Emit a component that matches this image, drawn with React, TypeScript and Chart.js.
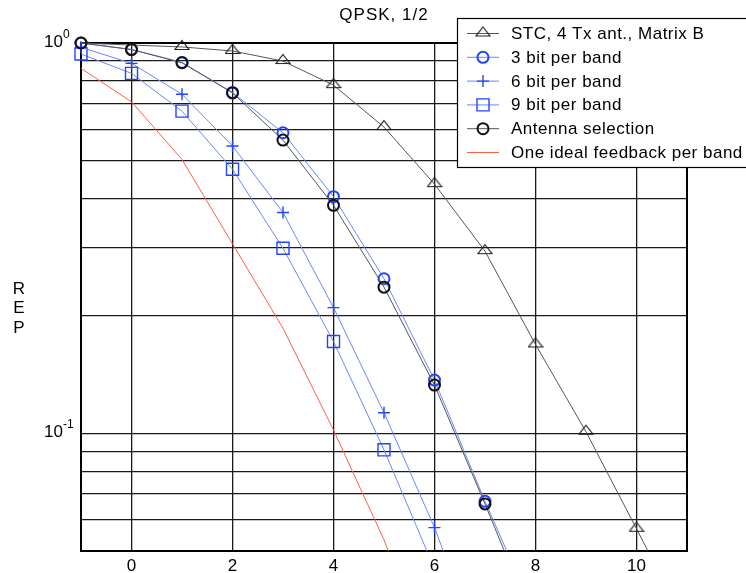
import React, { useEffect, useRef } from 'react';
import { Chart, registerables } from 'chart.js';

Chart.register(...registerables);

// ---- data ----
const stcX = [-1, 0, 1, 2, 3, 4, 5, 6, 7, 8, 9, 10, 11];
const stcY = [1.0, 0.988, 0.977, 0.954, 0.899, 0.78, 0.609, 0.435, 0.293, 0.169, 0.101, 0.057, 0.032];

const bit3X = [-1, 0, 1, 2, 3, 4, 5, 6, 7, 8];
const bit3Y = [1.0, 0.963, 0.892, 0.747, 0.589, 0.404, 0.249, 0.137, 0.067, 0.034];

const bit6X = [-1, 0, 1, 2, 3, 4, 5, 6, 7];
const bit6Y = [0.975, 0.887, 0.739, 0.545, 0.368, 0.21, 0.113, 0.0574, 0.026];

const bit9X = [-1, 0, 1, 2, 3, 4, 5, 6];
const bit9Y = [0.937, 0.836, 0.669, 0.475, 0.298, 0.172, 0.0908, 0.045];

const antX = [-1, 0, 1, 2, 3, 4, 5, 6, 7, 8];
const antY = [1.0, 0.962, 0.89, 0.745, 0.564, 0.384, 0.237, 0.133, 0.066, 0.032];

const idealX = [-1, 0, 1, 2, 3, 4, 5, 6];
const idealY = [0.861, 0.707, 0.503, 0.306, 0.186, 0.102, 0.0534, 0.025];

const xTickValues = [0, 2, 4, 6, 8, 10];
const yGridValues = [0.05, 0.06, 0.07, 0.08, 0.09, 0.1, 0.2, 0.3, 0.4, 0.5, 0.6, 0.7, 0.8, 0.9, 1];
const yLabelValues = [1, 0.1];
const yLabelExps = ['0', '-1'];

const seriesNames = [
  'STC, 4 Tx ant., Matrix B',
  '3 bit per band',
  '6 bit per band',
  '9 bit per band',
  'Antenna selection',
  'One ideal feedback per band',
];

const titleText = 'QPSK, 1/2';
const yTitle = ['R', 'E', 'P'];

const BLUE_M = '#2244ff';
const BLUE_L = '#6a86ff';
const BLACK_M = '#111111';
const GRAY_L = '#555555';
const RED_L = '#ff5f48';
const FONT = '"Liberation Sans", Arial, Helvetica, sans-serif';

function toPts(xs: number[], ys: number[]) {
  return xs.map((x, i) => ({ x, y: ys[i] }));
}

function makeTriangle(color: string): HTMLCanvasElement {
  const c = document.createElement('canvas');
  c.width = 16;
  c.height = 16;
  const g = c.getContext('2d')!;
  g.strokeStyle = color;
  g.lineWidth = 1.2;
  g.beginPath();
  g.moveTo(8, 1.5);
  g.lineTo(15, 10.5);
  g.lineTo(1, 10.5);
  g.closePath();
  g.stroke();
  return c;
}

function drawMarker(ctx: CanvasRenderingContext2D, style: string, x: number, y: number, r: number) {
  ctx.beginPath();
  if (style === 'circle') {
    ctx.arc(x, y, r, 0, Math.PI * 2);
  } else if (style === 'rect') {
    const s = Math.SQRT1_2 * r;
    ctx.rect(x - s, y - s, 2 * s, 2 * s);
  } else if (style === 'cross') {
    ctx.moveTo(x - r, y);
    ctx.lineTo(x + r, y);
    ctx.moveTo(x, y - r);
    ctx.lineTo(x, y + r);
  }
  ctx.stroke();
}

export default function App() {
  const ref = useRef<HTMLCanvasElement | null>(null);

  useEffect(() => {
    if (!ref.current) return;
    const tri = makeTriangle('#222');

    const framePlugin = {
      id: 'frame',
      beforeDatasetsDraw(chart: any) {
        const { ctx, chartArea: a } = chart;
        ctx.save();
        ctx.strokeStyle = '#000';
        ctx.lineWidth = 2;
        ctx.strokeRect(a.left, a.top, a.right - a.left, a.bottom - a.top);
        ctx.restore();
      },
      afterDraw(chart: any) {
        const { ctx, chartArea: a } = chart;
        const ys = chart.scales.y;
        ctx.save();
        // title
        ctx.fillStyle = '#000';
        ctx.font = `17px ${FONT}`;
        (ctx as any).letterSpacing = '1px';
        ctx.textAlign = 'center';
        ctx.textBaseline = 'middle';
        ctx.fillText(titleText, (a.left + a.right) / 2, 15);
        (ctx as any).letterSpacing = '0px';
        // y title
        ctx.font = `17px ${FONT}`;
        yTitle.forEach((ch, i) => ctx.fillText(ch, 19, 289 + i * 19.5));
        // y labels
        yLabelValues.forEach((v, i) => {
          const py = ys.getPixelForValue(v);
          ctx.font = `17px ${FONT}`;
          ctx.textAlign = 'right';
          ctx.textBaseline = 'alphabetic';
          ctx.fillText('10', 63, py + 4);
          ctx.font = `12px ${FONT}`;
          ctx.textAlign = 'left';
          ctx.fillText(yLabelExps[i], 63, py - 5);
        });
        // legend
        const bx = 457.5, by = 18.5, bw = 300, bh = 149;
        ctx.fillStyle = '#fff';
        ctx.fillRect(bx, by, bw, bh);
        ctx.strokeStyle = '#000';
        ctx.lineWidth = 1.2;
        ctx.strokeRect(bx, by, bw, bh);
        const ds = chart.data.datasets;
        seriesNames.forEach((name, i) => {
          const ly = 33.5 + i * 23.8;
          const d = ds[i];
          ctx.strokeStyle = d.borderColor;
          ctx.lineWidth = 1;
          ctx.beginPath();
          ctx.moveTo(467, ly);
          ctx.lineTo(499, ly);
          ctx.stroke();
          if (d.legendStyle) {
            ctx.strokeStyle = d.pointBorderColor;
            ctx.lineWidth = d.pointBorderWidth;
            if (d.legendStyle === 'tri') {
              ctx.drawImage(tri, 483 - 8, ly - 8);
            } else {
              drawMarker(ctx, d.legendStyle, 483, ly, d.pointRadius);
            }
          }
          ctx.fillStyle = '#000';
          ctx.font = `17px ${FONT}`;
          (ctx as any).letterSpacing = '0.5px';
          ctx.textAlign = 'left';
          ctx.textBaseline = 'alphabetic';
          ctx.fillText(name, 511, ly + 5.5);
          (ctx as any).letterSpacing = '0px';
        });
        ctx.restore();
      },
    };

    const clip = { left: 12, top: 12, right: 0, bottom: 0 };

    const chart = new Chart(ref.current, {
      type: 'line',
      data: {
        datasets: [
          {
            label: seriesNames[0],
            data: toPts(stcX, stcY),
            borderColor: GRAY_L,
            borderWidth: 1,
            pointStyle: tri,
            pointRadius: (c: any) => (c.dataIndex < 2 ? 0 : 7),
            pointBorderColor: '#222',
            pointBorderWidth: 1.2,
            legendStyle: 'tri',
            order: 4,
            clip,
          },
          {
            label: seriesNames[1],
            data: toPts(bit3X, bit3Y),
            borderColor: BLUE_L,
            borderWidth: 1,
            pointStyle: 'circle',
            pointRadius: 5.5,
            pointBorderColor: BLUE_M,
            pointBackgroundColor: 'rgba(0,0,0,0)',
            pointBorderWidth: 2,
            legendStyle: 'circle',
            order: 1,
            clip,
          },
          {
            label: seriesNames[2],
            data: toPts(bit6X, bit6Y),
            borderColor: BLUE_L,
            borderWidth: 1,
            pointStyle: 'cross',
            pointRadius: 6,
            pointBorderColor: BLUE_M,
            pointBorderWidth: 1.4,
            legendStyle: 'cross',
            order: 2,
            clip,
          },
          {
            label: seriesNames[3],
            data: toPts(bit9X, bit9Y),
            borderColor: BLUE_L,
            borderWidth: 1,
            pointStyle: 'rect',
            pointRadius: 8.5,
            pointBorderColor: BLUE_M,
            pointBackgroundColor: 'rgba(0,0,0,0)',
            pointBorderWidth: 1.4,
            legendStyle: 'rect',
            order: 3,
            clip,
          },
          {
            label: seriesNames[4],
            data: toPts(antX, antY),
            borderColor: GRAY_L,
            borderWidth: 1,
            pointStyle: 'circle',
            pointRadius: 5.5,
            pointBorderColor: BLACK_M,
            pointBackgroundColor: 'rgba(0,0,0,0)',
            pointBorderWidth: 2,
            legendStyle: 'circle',
            order: 0,
            clip,
          },
          {
            label: seriesNames[5],
            data: toPts(idealX, idealY),
            borderColor: RED_L,
            borderWidth: 1,
            pointRadius: 0,
            legendStyle: null,
            order: 5,
            clip,
          },
        ] as any,
      },
      options: {
        animation: false,
        responsive: false,
        maintainAspectRatio: false,
        events: [],
        layout: { padding: { left: 0, right: 59, top: 43, bottom: 0 } },
        plugins: {
          legend: { display: false },
          title: { display: false },
          tooltip: { enabled: false },
        },
        scales: {
          x: {
            type: 'linear',
            min: -1,
            max: 11,
            afterBuildTicks: (s: any) => {
              s.ticks = xTickValues.map((v) => ({ value: v }));
            },
            afterFit: (s: any) => {
              s.height = 22;
            },
            grid: { color: '#1a1a1a', lineWidth: 1.3, drawTicks: false },
            border: { display: false },
            ticks: {
              color: '#000',
              font: { family: FONT, size: 17 },
              padding: 5,
              maxRotation: 0,
              autoSkip: false,
            },
          },
          y: {
            type: 'logarithmic',
            min: 0.05,
            max: 1,
            afterBuildTicks: (s: any) => {
              s.ticks = yGridValues.map((v) => ({ value: v }));
            },
            afterFit: (s: any) => {
              s.width = 81;
            },
            grid: { color: '#1a1a1a', lineWidth: 1.3, drawTicks: false },
            border: { display: false },
            ticks: { display: false },
          },
        },
      } as any,
      plugins: [framePlugin],
    });
    return () => chart.destroy();
  }, []);

  return (
    <div style={{ position: 'absolute', left: 0, top: 0, width: 746, height: 573, background: '#fff' }}>
      <canvas ref={ref} width={746} height={573} style={{ width: 746, height: 573, display: 'block' }} />
    </div>
  );
}
